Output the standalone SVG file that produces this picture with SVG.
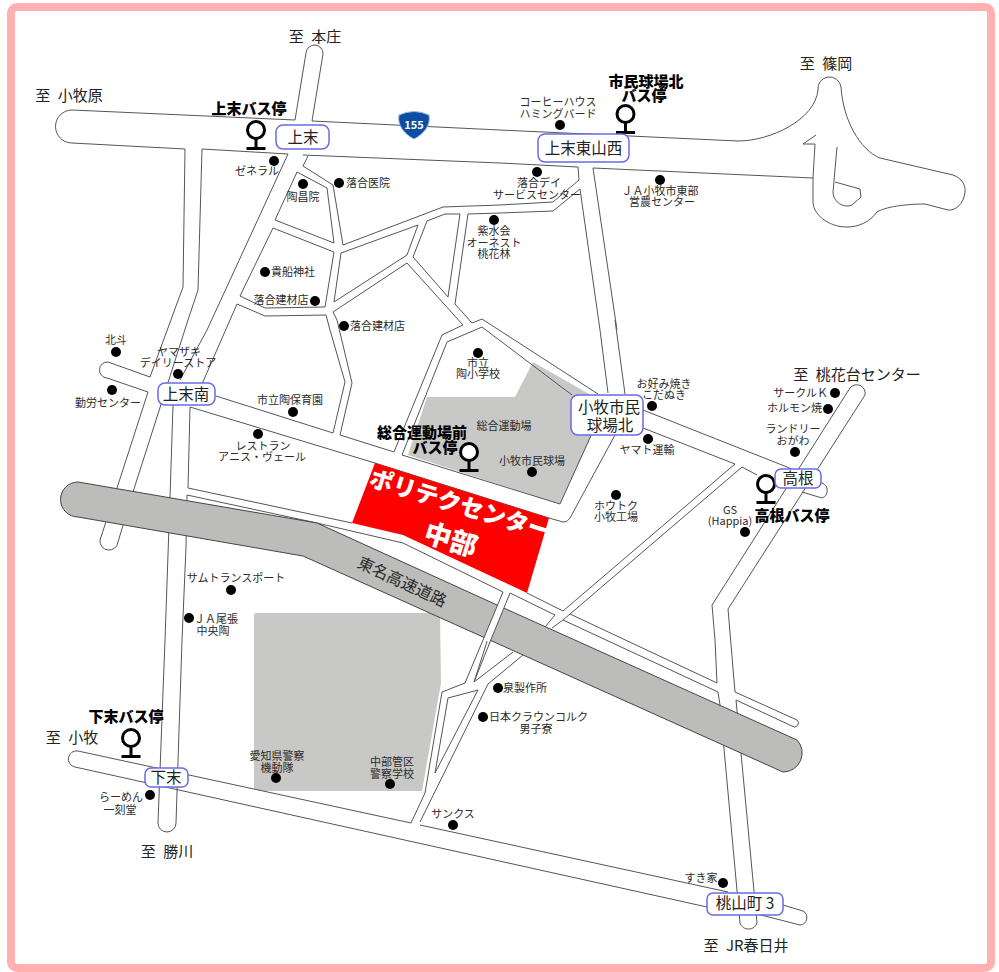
<svg xmlns="http://www.w3.org/2000/svg" xmlns:xlink="http://www.w3.org/1999/xlink" width="999" height="972" viewBox="0 0 999 972">
<style>
text{font-family:"Noto Sans CJK JP","Liberation Sans",sans-serif;text-anchor:middle;fill:#2a2a2a}
.s{font-size:11px}
.st{text-anchor:start}
.e{text-anchor:end}
.d{font-size:15px;fill:#222;word-spacing:4px}
.b{font-size:15px;font-weight:900;fill:#000}
.l{font-size:15.5px;fill:#222}
.r{fill:none;stroke:#555;stroke-width:1;stroke-linejoin:round}
.g{fill:#c8c8c6}
.box{fill:#fff;stroke:#6a6ae6;stroke-width:1.5}
.dot{fill:#000}
.w{font-size:23.5px;font-weight:900;fill:#fff}
</style>
<defs>
<g id="stop"><circle cx="0" cy="0" r="8.5" fill="#fff" stroke="#000" stroke-width="3"/><path d="M0,8.5V18M-9.500,18.500H9.500" fill="none" stroke="#000" stroke-width="3"/></g>
</defs>
<rect width="999" height="972" fill="#fff"/>
<rect x="11" y="7" width="980" height="961" rx="6" fill="#fff" stroke="#ffb0b0" stroke-width="8"/>

<g id="areas">
<path class="g" d="M256,613H438Q440,613 440,615L441,683L422,791H261L254,789V615Q254,613 256,613Z"/>
<path class="g" d="M427,397H515L533,362L596,398L592,435L560,504L408,455Z"/>
</g>

<g id="roads">
<path class="r" d="M185,149L72,143A16.500,16.500 0 0 1 72,110L295,120L306,53A8.500,8.500 0 0 1 323,54L312,121L500,130L738,141C770,141 815,120 818,90A11.500,11.500 0 0 1 841,87C843,120 860,150 880,158L953,175C962,178 966,186 965,192C964,204 955,211 948,210L925,204C905,204 885,207 877,212C870,222 858,227 847,227C828,227 812,214 813,200L813,178L593,168L617,330"/>
<path class="r" d="M816,135L803,144H815L813,178"/>
<path class="r" d="M837,147L833,192C833,200 840,206 847,206C850,206 852,205 853,204L861,197L860,189L835,182"/>
<path class="r" d="M185,149L183,287L150,377L108,362A8,8 0 0 0 107,378L148,392L117,488L100,540A9,9 0 0 0 118,542L133,492L188,320L198,290L202,149L288,154L207,330L180,380"/>
<path class="r" d="M303,155L500,163L578,167L579,180L553,202L500,205L443,207L343,245L333,185L303,166L308,156"/>
<path class="r" d="M275,220L297,172L327,188L334,243Z"/>
<path class="r" d="M273,228L334,252L325,307L265,308L240,296Z"/>
<path class="r" d="M341,253L418,225L407,255L334,302Z"/>
<path class="r" d="M460,214L448,297L413,257L427,221L445,214Z"/>
<path class="r" d="M237,304L265,316L326,315L330,330L345,382L333,433"/>
<path class="r" d="M237,304L195,400"/>
<path class="r" d="M333,312L407,263L463,325L442,335L394,452"/>
<path class="r" d="M333,312L337,320L352,383L340,435L394,452"/>
<path class="r" d="M500,213L468,214L455,304L472,323L482,319L598,394"/>
<path class="r" d="M500,213L553,211L580,189L600,330L608,393"/>
<path class="r" d="M447,342L402,455L560,504L598,420"/>
<path class="r" d="M447,342L482,327L572,395"/>
<path class="r" d="M615,320L625,394"/>
<path class="r" d="M216,396L333,433"/>
<path class="r" d="M190,407L188,488L352,523"/>
<path class="r" d="M190,407L375,463L549,518L563,522Q567,523 570,518L615,435"/>
<path class="r" d="M173,405L170,498L165,640L158,823A9,9 0 0 0 176,823L182,640L186,547L187,495L317,523L403,543L503,592L474,682"/>
<path class="r" d="M510,593L555,615L545,627"/>
<path class="r" d="M527,593L563,611L735,464"/>
<path class="r" d="M552,628L563,620L570,614L717,683L715,640L712,605L850,388A8.500,8.500 0 0 1 865,395L728,609L735,692L797,720A3.500,3.500 0 0 1 792,726L736,700L757,923A9,9 0 0 1 740,923L720,705L718,692L563,620"/>
<path class="r" d="M643,410L787,467L822,483A8,8 0 0 1 822,498L802,492"/>
<path class="r" d="M643,428L735,464M742,467L757,475"/>
<path class="r" d="M570,614L742,467"/>
<path class="r" d="M513,652L474,682L490,642M523,655L488,684L420,822"/>
<path class="r" d="M483,640L465,683L442,692L425,793L411,823L78,751A7,7 0 0 0 75,767L707,907M420,825L728,892M783,905L803,911A7.500,7.500 0 0 1 800,925L753,913"/>
<path class="r" d="M448,698L478,690L435,773Z"/>
</g>

<g id="expressway">
<path d="M78,482L317,523L497,605L797,740A19,19 0 0 1 783,772L303,556L78,517A17.500,17.500 0 0 1 78,482Z" fill="#bcbcba" stroke="#444" stroke-width="1"/>
<path d="M503,592L510,593L490,642L483,640Z" fill="#fff"/>
<path class="r" d="M503,592L483,640M510,593L490,642"/>
<text transform="translate(402,582) rotate(25)" font-size="16" fill="#222" dy=".35em">東名高速道路</text>
</g>

<g id="site">
<path d="M375,463L549,518L527,593L403,535L352,523Z" fill="#f00"/>
<text class="w" transform="translate(458,513) rotate(17)">ポリテクセンター</text>
<text class="w" transform="translate(448,549) rotate(17)" style="font-size:27px">中部</text>
</g>

<g id="shield">
<path d="M399,115Q414,108 429,115C431,125 424,134 414,139C404,134 397,125 399,115Z" fill="#0b4ea2" stroke="#9ab8e0" stroke-width="1"/>
<text x="414" y="129" font-size="11" font-weight="700" style="fill:#fff">155</text>
</g>

<g id="pois">
<circle class="dot" cx="274" cy="161" r="5"/><text class="s" x="257" y="175">ゼネラル</text>
<circle class="dot" cx="303" cy="184" r="5"/><text class="s" x="303" y="201">陶昌院</text>
<circle class="dot" cx="339" cy="183" r="5"/><text class="s st" x="346" y="187">落合医院</text>
<circle class="dot" cx="537" cy="172" r="5"/><text class="s" x="539" y="187">落合デイ</text><text class="s" x="537" y="199">サービスセンター</text>
<circle class="dot" cx="494" cy="220" r="5"/><text class="s" x="494" y="235">紫水会</text><text class="s" x="494" y="247">オーネスト</text><text class="s" x="494" y="258">桃花林</text>
<circle class="dot" cx="560" cy="125" r="5"/><text class="s" x="558" y="106">コーヒーハウス</text><text class="s" x="558" y="118">ハミングバード</text>
<circle class="dot" cx="660" cy="180" r="5"/><text class="s" x="660" y="195">ＪＡ小牧市東部</text><text class="s" x="662" y="206">営農センター</text>
<circle class="dot" cx="265" cy="272" r="5"/><text class="s st" x="271" y="276">貴船神社</text>
<circle class="dot" cx="315" cy="301" r="5"/><text class="s" x="281" y="304">落合建材店</text>
<circle class="dot" cx="344" cy="326" r="5"/><text class="s st" x="350" y="330">落合建材店</text>
<circle class="dot" cx="116" cy="352" r="5"/><text class="s" x="116" y="344">北斗</text>
<circle class="dot" cx="178" cy="374" r="5"/><text class="s" x="179" y="356">ヤマザキ</text><text class="s" x="178" y="367">デイリーストア</text>
<circle class="dot" cx="112" cy="390" r="5"/><text class="s" x="108" y="407">勤労センター</text>
<circle class="dot" cx="293" cy="412" r="5"/><text class="s" x="290" y="404">市立陶保育園</text>
<circle class="dot" cx="478" cy="353" r="5"/><text class="s" x="478" y="367">市立</text><text class="s" x="478" y="378">陶小学校</text>
<circle class="dot" cx="258" cy="434" r="5"/><text class="s" x="263" y="450">レストラン</text><text class="s" x="262" y="461">アニス・ヴェール</text>
<text class="s" x="504" y="430">総合運動場</text>
<circle class="dot" cx="532" cy="472" r="5"/><text class="s" x="532" y="465">小牧市民球場</text>
<circle class="dot" cx="652" cy="406" r="5"/><text class="s" x="664" y="388">お好み焼き</text><text class="s" x="664" y="399">こだぬき</text>
<circle class="dot" cx="648" cy="439" r="5"/><text class="s" x="647" y="454">ヤマト運輸</text>
<circle class="dot" cx="616" cy="495" r="5"/><text class="s" x="616" y="510">ホウトク</text><text class="s" x="616" y="521">小牧工場</text>
<circle class="dot" cx="835" cy="393" r="5"/><text class="s e" x="828" y="397">サークルＫ</text>
<circle class="dot" cx="828" cy="409" r="5"/><text class="s e" x="822" y="412">ホルモン焼</text>
<circle class="dot" cx="795" cy="452" r="5"/><text class="s" x="793" y="433">ランドリー</text><text class="s" x="793" y="445">おがわ</text>
<circle class="dot" cx="745" cy="532" r="5"/><text class="s" x="730" y="514">GS</text><text class="s" x="730" y="525">(Happia)</text>
<circle class="dot" cx="231" cy="590" r="5"/><text class="s" x="236" y="582">サムトランスポート</text>
<circle class="dot" cx="189" cy="618" r="5"/><text class="s" x="216" y="623">ＪＡ尾張</text><text class="s" x="213" y="635">中央陶</text>
<circle class="dot" cx="498" cy="688" r="5"/><text class="s st" x="503" y="692">泉製作所</text>
<circle class="dot" cx="483" cy="717" r="5"/><text class="s st" x="489" y="721">日本クラウンコルク</text><text class="s" x="536" y="733">男子寮</text>
<circle class="dot" cx="453" cy="825" r="5"/><text class="s" x="453" y="818">サンクス</text>
<circle class="dot" cx="723" cy="883" r="5"/><text class="s" x="701" y="882">すき家</text>
<circle class="dot" cx="276" cy="778" r="5"/><text class="s" x="277" y="760">愛知県警察</text><text class="s" x="277" y="772">機動隊</text>
<circle class="dot" cx="390" cy="784" r="5"/><text class="s" x="392" y="766">中部管区</text><text class="s" x="392" y="778">警察学校</text>
<circle class="dot" cx="150" cy="795" r="5"/><text class="s" x="121" y="801">らーめん</text><text class="s" x="120" y="814">一刻堂</text>
</g>

<g id="directions">
<text class="d" x="315" y="42">至 本庄</text>
<text class="d" x="69" y="101">至 小牧原</text>
<text class="d" x="826" y="69">至 篠岡</text>
<text class="d" x="857" y="380">至 桃花台センター</text>
<text class="d" x="72" y="743">至 小牧</text>
<text class="d" x="167" y="857">至 勝川</text>
<text class="d" x="746" y="951">至 JR春日井</text>
</g>

<g id="bus-stops">
<g id="stop-kamisue"><use xlink:href="#stop" href="#stop" x="256" y="130"/><text class="b" x="249" y="114">上末バス停</text></g>
<g id="stop-shimin"><use xlink:href="#stop" href="#stop" x="625.500" y="114"/><text class="b" x="646" y="87">市民球場北</text><text class="b" x="644" y="101">バス停</text></g>
<g id="stop-sogo"><use xlink:href="#stop" href="#stop" x="469" y="452"/><text class="b" x="422" y="438">総合運動場前</text><text class="b" x="435" y="453">バス停</text></g>
<g id="stop-takane"><use xlink:href="#stop" href="#stop" x="766" y="484"/><text class="b" x="792" y="521">高根バス停</text></g>
<g id="stop-shimosue"><use xlink:href="#stop" href="#stop" x="131" y="738"/><text class="b" x="126" y="722">下末バス停</text></g>
</g>

<g id="intersections">
<g id="node-kamisue"><rect class="box" x="276" y="125" width="53" height="24" rx="7"/><text class="l" x="303" y="143">上末</text></g>
<g id="node-higashiyama"><rect class="box" x="538" y="134" width="91" height="28" rx="7"/><text class="l" x="583.500" y="154">上末東山西</text></g>
<g id="node-minami"><rect class="box" x="158" y="383" width="57" height="22" rx="7"/><text class="l" x="186" y="400">上末南</text></g>
<g id="node-kyujo"><rect class="box" x="571" y="395" width="72" height="40" rx="7"/><text class="l" x="609" y="413">小牧市民</text><text class="l" x="610" y="431">球場北</text></g>
<g id="node-takane"><rect class="box" x="775" y="469" width="46" height="19" rx="6"/><text class="l" x="798" y="484">高根</text></g>
<g id="node-shimosue"><rect class="box" x="145" y="768" width="43" height="19" rx="6"/><text class="l" x="166" y="783">下末</text></g>
<g id="node-momoyama"><rect class="box" x="707" y="893" width="76" height="22" rx="6"/><text class="l" x="745" y="909">桃山町 3</text></g>
</g>
</svg>
